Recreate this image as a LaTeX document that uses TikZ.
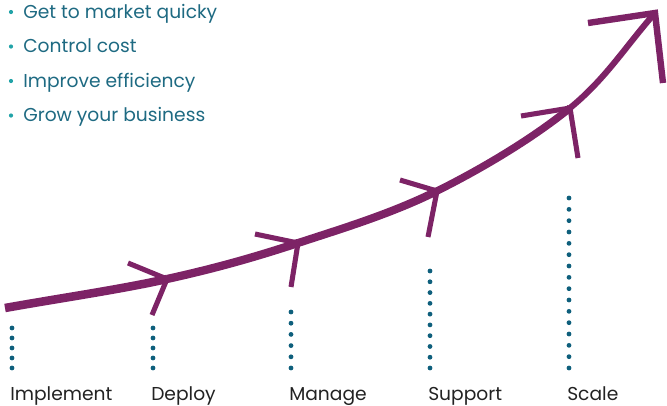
\documentclass[tikz,border=0pt]{standalone}
\usepackage{fontspec}
\setmainfont{Poppins}
\definecolor{arrowpurple}{HTML}{7D2366}
\definecolor{dotblue}{HTML}{0E5F7C}
\definecolor{listteal}{HTML}{1E6A82}
\definecolor{bulletteal}{HTML}{22A3A8}
\definecolor{labelgray}{HTML}{222222}
\tikzset{
  mainline/.style={draw=arrowpurple, line cap=butt},
  arm/.style={draw=arrowpurple, line width=3.8pt, line cap=butt},
  toparm/.style={draw=arrowpurple, line width=4.8pt, line cap=butt},
  stagelabel/.style={anchor=base west, inner sep=0pt, font=\fontsize{14pt}{16pt}\selectfont, text=labelgray},
  listitem/.style={anchor=base west, inner sep=0pt, font=\fontsize{14pt}{16pt}\selectfont, text=listteal},
  bulletdot/.style={fill=bulletteal, draw=none},
  stagedot/.style={fill=dotblue, draw=none}
}
\begin{document}
\begin{tikzpicture}[x=0.75pt,y=-0.75pt]
\useasboundingbox (0,0) rectangle (667,405);
% curve points
\coordinate (p0) at (5,308);
\coordinate (p1) at (167,279);
\coordinate (p2) at (298,243);
\coordinate (p3) at (437,191);
\coordinate (p4) at (570,108);
\coordinate (p5) at (655,13);
% main curve
\draw[mainline, line width=6.4pt] (p0) .. controls (59,298.3) and (118.2,289.8) .. (p1);
\draw[mainline, line width=6.2pt] (p1) .. controls (215.8,268.2) and (253,257.7) .. (p2);
\draw[mainline, line width=6.0pt] (p2) .. controls (343,228.3) and (391.7,213.5) .. (p3);
\draw[mainline, line width=5.6pt] (p3) .. controls (482.3,168.5) and (533.7,137.7) .. (p4);
\draw[mainline, line width=4.6pt] (p4) .. controls (606.3,78.3) and (626.7,44.7) .. (p5);
% chevrons
\coordinate (a1) at (128,263); \coordinate (b1) at (152,315);
\coordinate (a2) at (255,234); \coordinate (b2) at (291,287);
\coordinate (a3) at (400,180); \coordinate (b3) at (428,237);
\coordinate (a4) at (521,116); \coordinate (b4) at (578,158);
\coordinate (a5) at (588,23);  \coordinate (b5) at (663,83);
\draw[arm] (a1) -- (p1) -- (b1);
\draw[arm] (a2) -- (p2) -- (b2);
\draw[arm] (a3) -- (p3) -- (b3);
\draw[arm] (a4) -- (p4) -- (b4);
\draw[toparm, line join=miter] (a5) -- (p5) -- (b5);
% dotted stage lines
\foreach \x/\ytop/\n in {12/328/5, 153/328/5, 291/312/6, 430/271/10, 569/198/16}{
  \foreach \i in {1,...,\n}{
    \fill[stagedot] (\x, {\ytop + (\i-1)*(368-\ytop)/(\n-1)}) circle (2.4);
  }
}
% stage labels
\node[stagelabel] (implement) at (10,400) {Implement};
\node[stagelabel] (deploy) at (151,400) {Deploy};
\node[stagelabel] (manage) at (289,400) {Manage};
\node[stagelabel] (support) at (428,400) {Support};
\node[stagelabel] (scale) at (567,400) {Scale};
% bullet list
\foreach \yy/\txt/\nm in {18/Get to market quicky/l1, 52.5/Control cost/l2, 87/Improve efficiency/l3, 121.5/Grow your business/l4}{
  \fill[bulletdot] (11,\yy-6) circle (2.1);
  \node[listitem] (\nm) at (23,\yy) {\txt};
}
\end{tikzpicture}
\end{document}
